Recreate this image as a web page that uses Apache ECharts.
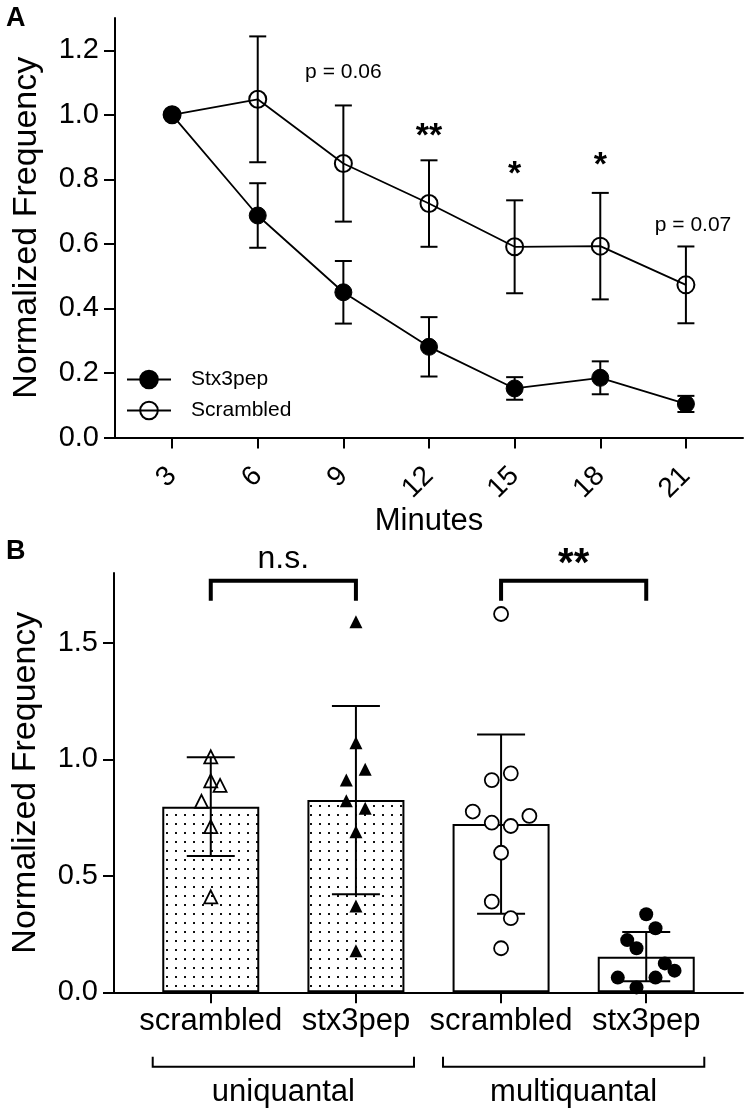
<!DOCTYPE html>
<html><head><meta charset="utf-8">
<script src="https://cdn.jsdelivr.net/npm/echarts@6/dist/echarts.min.js"></script>
<style>html,body{margin:0;padding:0;background:#fff}#c{width:747px;height:1111px}</style>
</head><body><div id="c"></div>
<script>
// ---------- Panel A data ----------
const minutes = [3, 6, 9, 12, 15, 18, 21];
const stx3pepMean = [1.0, 0.688, 0.450, 0.281, 0.152, 0.185, 0.104];
const stx3pepErr  = [0, 0.100, 0.097, 0.092, 0.035, 0.051, 0.025];
const scrambledMean = [1.0, 1.048, 0.849, 0.725, 0.591, 0.593, 0.473];
const scrambledErr  = [0, 0.195, 0.180, 0.134, 0.144, 0.165, 0.119];
const aYTicks = [0, 0.2, 0.4, 0.6, 0.8, 1.0, 1.2];
const aNotes = [
  {x: 9,     y: 1.133, text: 'p = 0.06', star: false},
  {x: 12,    y: 0.933, text: '**',       star: true},
  {x: 15,    y: 0.815, text: '*',        star: true},
  {x: 18,    y: 0.844, text: '*',        star: true},
  {x: 21.25, y: 0.658, text: 'p = 0.07', star: false}
];

// ---------- Panel B data ----------
const bCategories = ['scrambled', 'stx3pep', 'scrambled', 'stx3pep'];
const bGroups = ['uniquantal', 'multiquantal'];
const bMeans = [0.797, 0.825, 0.722, 0.153];
const bSD    = [0.212, 0.404, 0.385, 0.106];
const bYTicks = [0, 0.5, 1.0, 1.5];
const uniScrPts  = [1.011, 0.908, 0.888, 0.820, 0.711, 0.410];
const uniScrJit  = [0, 0, 0.064, -0.064, 0, 0];
const uniStxPts  = [1.591, 1.071, 0.957, 0.911, 0.822, 0.790, 0.689, 0.370, 0.178];
const uniStxJit  = [0, 0, 0.064, -0.066, -0.066, 0.064, 0, 0, 0];
const mulScrPts  = [1.624, 0.940, 0.911, 0.776, 0.757, 0.728, 0.714, 0.599, 0.389, 0.318, 0.189];
const mulScrJit  = [0, 0.067, -0.064, -0.195, 0.195, -0.064, 0.067, 0, -0.064, 0.067, 0];
const mulStxPts  = [0.335, 0.275, 0.224, 0.189, 0.124, 0.093, 0.063, 0.063, 0.021];
const mulStxJit  = [0, 0.064, -0.131, -0.067, 0.128, 0.195, -0.196, 0.064, -0.067];
const bSig = [
  {x1: 1, x2: 2, y: 1.767, text: 'n.s.', star: false},
  {x1: 3, x2: 4, y: 1.767, text: '**',   star: true}
];
const bGroupSpans = [[0.6, 2.4], [2.6, 4.4]];

// ---------- build ----------
const FONT = "'Liberation Sans', Arial, sans-serif";
const dot = document.createElement('canvas');
dot.width = 9; dot.height = 9;
(function(){ const g = dot.getContext('2d'); g.fillStyle = '#fff'; g.fillRect(0,0,9,9); g.fillStyle = '#111'; g.fillRect(4,4,2,2); })();
const dotted = {image: dot, repeat: 'repeat'};

function errRender(hw, lw) {
  return function(params, api) {
    const x = api.value(0), m = api.value(1), e = api.value(2);
    if (!e) return {type: 'group', children: []};
    const t = api.coord([x, m + e]), b = api.coord([x, m - e]);
    const st = {stroke: '#000', lineWidth: lw};
    return {type: 'group', children: [
      {type: 'line', shape: {x1: t[0], y1: t[1], x2: b[0], y2: b[1]}, style: st},
      {type: 'line', shape: {x1: t[0]-hw, y1: t[1], x2: t[0]+hw, y2: t[1]}, style: st},
      {type: 'line', shape: {x1: b[0]-hw, y1: b[1], x2: b[0]+hw, y2: b[1]}, style: st}
    ]};
  };
}

const axisLine = {show: true, lineStyle: {color: '#000', width: 2}};
const axisTick = (vals) => ({show: true, length: 11, lineStyle: {color: '#000', width: 2}, customValues: vals});

const option = {
  animation: false,
  textStyle: {fontFamily: FONT, color: '#000'},
  grid: [
    {left: 115, top: 18, right: 4, bottom: 1111 - 437.5},
    {left: 114, top: 573, right: 4, bottom: 1111 - 992.3}
  ],
  legend: {
    data: ['Stx3pep', 'Scrambled'], orient: 'vertical', left: 121, top: 364,
    itemWidth: 44, itemHeight: 22, itemGap: 10,
    textStyle: {fontFamily: FONT, fontSize: 21, color: '#000', padding: [0, 0, 0, 15]}
  },
  xAxis: [
    {gridIndex: 0, type: 'value', min: 1, max: 23, splitLine: {show: false},
     axisLine: axisLine, axisTick: axisTick(minutes),
     axisLabel: {customValues: minutes, rotate: 45, margin: 34, fontSize: 28, color: '#000', fontFamily: FONT},
     name: 'Minutes', nameLocation: 'middle', nameGap: 65,
     nameTextStyle: {fontSize: 31, color: '#000', fontFamily: FONT}},
    {gridIndex: 1, type: 'value', min: 1/3, max: 14/3, splitLine: {show: false},
     axisLine: axisLine, axisTick: axisTick([1,2,3,4]),
     axisLabel: {customValues: [1,2,3,4], margin: 14, fontSize: 31, color: '#000', fontFamily: FONT,
       formatter: v => bCategories[Math.round(v) - 1]}}
  ],
  yAxis: [
    {gridIndex: 0, type: 'value', min: 0, max: 1.3, splitLine: {show: false},
     axisLine: axisLine, axisTick: axisTick(aYTicks),
     axisLabel: {customValues: aYTicks, margin: 16, fontSize: 29, color: '#000', fontFamily: FONT, formatter: v => v.toFixed(1)},
     name: 'Normalized Frequency', nameLocation: 'middle', nameGap: 71, nameRotate: 90,
     nameTextStyle: {fontSize: 34, color: '#000', fontFamily: FONT}},
    {gridIndex: 1, type: 'value', min: 0, max: 1.8, splitLine: {show: false},
     axisLine: axisLine, axisTick: axisTick(bYTicks),
     axisLabel: {customValues: bYTicks, margin: 16, fontSize: 29, color: '#000', fontFamily: FONT, formatter: v => v.toFixed(1)},
     name: 'Normalized Frequency', nameLocation: 'middle', nameGap: 71, nameRotate: 90,
     nameTextStyle: {fontSize: 34, color: '#000', fontFamily: FONT}}
  ],
  graphic: [
    {type: 'text', left: 6, top: 5, style: {text: 'A', font: 'bold 27px ' + FONT, fill: '#000'}},
    {type: 'text', left: 6, top: 538, style: {text: 'B', font: 'bold 27px ' + FONT, fill: '#000'}}
  ],
  series: [
    // ---- Panel A ----
    {type: 'custom', name: 'errScr', xAxisIndex: 0, yAxisIndex: 0, clip: false, z: 3,
     renderItem: errRender(8.5, 2), data: minutes.map((m, i) => [m, scrambledMean[i], scrambledErr[i]])},
    {type: 'custom', name: 'errStx', xAxisIndex: 0, yAxisIndex: 0, clip: false, z: 3,
     renderItem: errRender(8.5, 2), data: minutes.map((m, i) => [m, stx3pepMean[i], stx3pepErr[i]])},
    {type: 'line', name: 'Scrambled', xAxisIndex: 0, yAxisIndex: 0, z: 4,
     data: minutes.map((m, i) => [m, scrambledMean[i]]),
     symbol: 'circle', symbolSize: 17, showAllSymbol: true,
     lineStyle: {color: '#000', width: 1.8},
     itemStyle: {color: 'rgba(255,255,255,0)', borderColor: '#000', borderWidth: 2}},
    {type: 'line', name: 'Stx3pep', xAxisIndex: 0, yAxisIndex: 0, z: 5,
     data: minutes.map((m, i) => [m, stx3pepMean[i]]),
     symbol: 'circle', symbolSize: 17, showAllSymbol: true,
     lineStyle: {color: '#000', width: 1.8},
     itemStyle: {color: '#000', borderColor: '#000', borderWidth: 1}},
    {type: 'custom', name: 'notesA', xAxisIndex: 0, yAxisIndex: 0, clip: false, z: 6,
     data: aNotes.map(n => [n.x, n.y]),
     renderItem: function(params, api) {
       const n = aNotes[params.dataIndex];
       const p = api.coord([api.value(0), api.value(1)]);
       return {type: 'text', x: p[0], y: p[1], style: {text: n.text,
         font: (n.star ? 'bold 34px ' : '21px ') + FONT, fill: '#000', textAlign: 'center', textVerticalAlign: 'middle'}};
     }},
    // ---- Panel B ----
    {type: 'bar', name: 'bars', xAxisIndex: 1, yAxisIndex: 1, barWidth: 97, z: 1,
     data: bMeans.map((v, i) => ({value: [i + 1, v],
       itemStyle: {color: i < 2 ? dotted : '#fff', borderColor: '#000', borderWidth: 2}}))},
    {type: 'custom', name: 'errB', xAxisIndex: 1, yAxisIndex: 1, clip: false, z: 3,
     renderItem: errRender(24, 2), data: bMeans.map((v, i) => [i + 1, v, bSD[i]])},
    {type: 'scatter', name: 'uniScr', xAxisIndex: 1, yAxisIndex: 1, symbol: 'triangle', symbolSize: 13, z: 4,
     itemStyle: {color: 'rgba(255,255,255,0)', borderColor: '#000', borderWidth: 1.8, opacity: 1},
     data: uniScrPts.map((v, i) => [1 + uniScrJit[i], v])},
    {type: 'scatter', name: 'uniStx', xAxisIndex: 1, yAxisIndex: 1, symbol: 'triangle', symbolSize: 13, z: 4,
     itemStyle: {color: '#000', opacity: 1},
     data: uniStxPts.map((v, i) => [2 + uniStxJit[i], v])},
    {type: 'scatter', name: 'mulScr', xAxisIndex: 1, yAxisIndex: 1, symbol: 'circle', symbolSize: 14, z: 4,
     itemStyle: {color: '#fff', borderColor: '#000', borderWidth: 1.8, opacity: 1},
     data: mulScrPts.map((v, i) => [3 + mulScrJit[i], v])},
    {type: 'scatter', name: 'mulStx', xAxisIndex: 1, yAxisIndex: 1, symbol: 'circle', symbolSize: 14, z: 4,
     itemStyle: {color: '#000', opacity: 1},
     data: mulStxPts.map((v, i) => [4 + mulStxJit[i], v])},
    {type: 'custom', name: 'sigB', xAxisIndex: 1, yAxisIndex: 1, clip: false, z: 5,
     data: bSig.map(s => [s.x1, s.x2, s.y]),
     renderItem: function(params, api) {
       const s = bSig[params.dataIndex];
       const a = api.coord([api.value(0), api.value(2)]);
       const b = api.coord([api.value(1), api.value(2)]);
       const leg = 20;
       return {type: 'group', children: [
         {type: 'polyline', shape: {points: [[a[0], a[1] + leg], [a[0], a[1]], [b[0], b[1]], [b[0], b[1] + leg]]},
          style: {stroke: '#000', lineWidth: 4, fill: null}},
         {type: 'text', x: (a[0] + b[0]) / 2, y: a[1] - (s.star ? 16 : 22),
          style: {text: s.text, font: (s.star ? 'bold 40px ' : '32px ') + FONT, fill: '#000',
                  textAlign: 'center', textVerticalAlign: 'middle'}}
       ]};
     }},
    {type: 'custom', name: 'groupsB', xAxisIndex: 1, yAxisIndex: 1, clip: false, z: 5,
     data: bGroupSpans.map(g => [g[0], g[1]]),
     renderItem: function(params, api) {
       const a = api.coord([api.value(0), 0]);
       const b = api.coord([api.value(1), 0]);
       const y = a[1] + 74.5;
       return {type: 'group', children: [
         {type: 'polyline', shape: {points: [[a[0], y - 10], [a[0], y], [b[0], y], [b[0], y - 10]]},
          style: {stroke: '#000', lineWidth: 2, fill: null}},
         {type: 'text', x: (a[0] + b[0]) / 2, y: y + 26,
          style: {text: bGroups[params.dataIndex], font: '31px ' + FONT, fill: '#000',
                  textAlign: 'center', textVerticalAlign: 'middle'}}
       ]};
     }}
  ]
};
const chart = echarts.init(document.getElementById('c'));
chart.setOption(option);
</script></body></html>
